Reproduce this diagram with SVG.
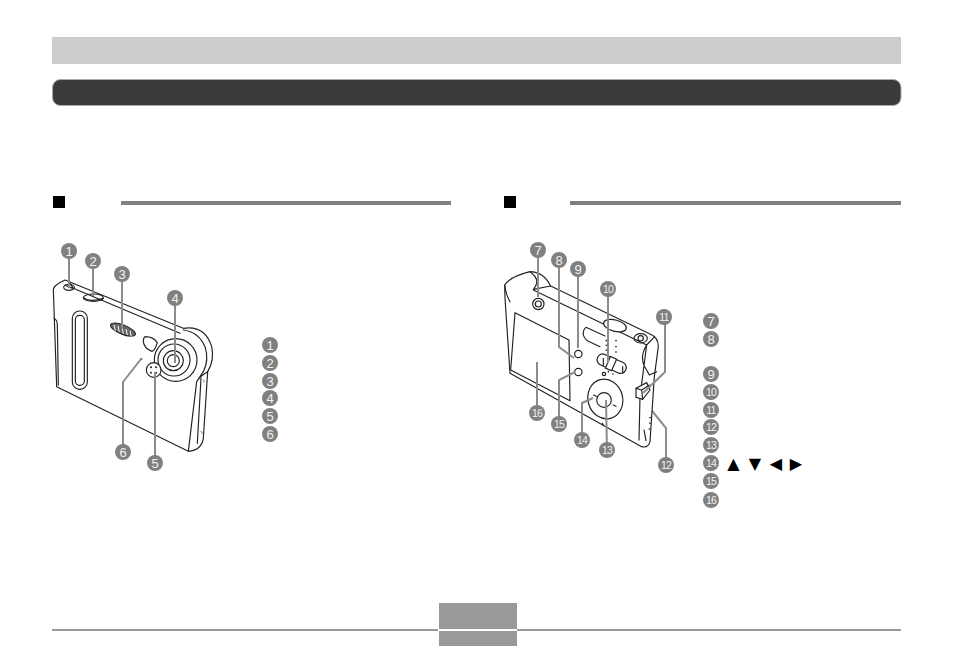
<svg xmlns="http://www.w3.org/2000/svg" width="954" height="646" viewBox="0 0 954 646">
<style>
.b{fill:#808080}
.n{fill:#f2f2f2;font-family:"Liberation Sans",Arial,sans-serif;font-size:13px;text-anchor:middle}
.w{font-size:10.500px;letter-spacing:-.8px}
.l{fill:none;stroke:#8c8c8c;stroke-width:2}
.c{fill:#fff;stroke:#222;stroke-width:3.500;stroke-linejoin:round}
.t{fill:none;stroke:#222;stroke-width:3.500;stroke-linejoin:round;stroke-linecap:round}
.h{fill:none;stroke:#555;stroke-width:2}
.g{fill:#000;font-family:"DejaVu Sans",sans-serif;font-size:16px;text-anchor:middle}
</style>
<rect width="954" height="646" fill="#fff"/>
<g id="header">
<rect x="52" y="37" width="849" height="27" fill="#cccccc"/>
<rect x="52.500" y="79.500" width="848.500" height="26" rx="8" fill="#3a3a3a" stroke="#aaa" stroke-width="1"/>
<rect x="53" y="196" width="12" height="12" fill="#000"/>
<rect x="121" y="201" width="330" height="4" fill="#808080"/>
<rect x="504" y="196" width="12" height="12" fill="#000"/>
<rect x="570" y="201" width="331" height="4" fill="#808080"/>
</g>
<g id="camera-front" transform="translate(40,230) scale(.33333)">
<path class="c" d="M40 178Q42 165 75 150L430 295Q495 285 515 350Q524 390 503 425L490 625Q485 660 445 664L50 470L40 178Z"/>
<path class="t" d="M42 265Q52 270 52 285L55 465M75 165Q85 172 100 175L420 310M100 175L90 160M430 300Q475 305 495 350Q508 390 490 425L470 455M503 425Q478 440 470 455L445 664M483 445L472 640"/>
<rect class="t" x="97" y="243" width="45" height="235" rx="22"/>
<rect class="t" x="106" y="256" width="27" height="210" rx="13"/>
<ellipse class="t" cx="87" cy="172" rx="16" ry="9"/>
<ellipse class="t" cx="160" cy="203" rx="30" ry="11"/>
<path class="t" d="M131 203Q150 218 190 205"/>
<ellipse cx="249" cy="299" rx="40" ry="14" transform="rotate(22 249 299)" fill="#666" stroke="#222" stroke-width="3"/>
<path d="M222 285L226 302M234 288L238 306M246 292L250 311M258 297L262 315M270 302L274 320" stroke="#fff" stroke-width="3"/>
<path class="c" d="M316 320Q340 320 352 338Q345 362 336 364Q312 355 310 335Q310 322 316 320Z"/>
<circle class="c" cx="407" cy="390" r="64"/>
<circle class="t" cx="402" cy="390" r="48"/>
<circle class="t" cx="400" cy="392" r="30"/>
<circle class="t" cx="400" cy="392" r="18"/>
<circle class="c" cx="341" cy="420" r="22"/>
<g fill="#222"><circle cx="333" cy="412" r="3"/><circle cx="348" cy="412" r="3"/><circle cx="333" cy="428" r="3"/><circle cx="348" cy="428" r="3"/></g>
<circle cx="304" cy="387" r="3" fill="#444"/>
<path class="h" d="M488 450l6 3-3 5M481 604l6 3-3 5"/>
</g>
<g id="camera-back" transform="translate(490,230) scale(.33333)">
<path class="c" d="M44 165Q60 140 120 125Q160 125 182 168L480 312Q505 322 505 350L493 440L480 635Q475 655 455 650L60 430L45 205Z"/>
<path class="t" d="M44 165Q48 195 60 215M120 125Q155 150 130 178L182 168M130 180L470 345L492 322M470 345L450 500L447 630M470 345Q445 385 470 420L478 435L500 425M462 600L468 632"/>
<path class="t" d="M75 248L237 330L240 512L62 420Z"/>
<circle class="t" cx="145" cy="222" r="17"/>
<circle class="t" cx="145" cy="222" r="9"/>
<path class="t" d="M288 292L345 318M288 292Q278 300 280 315Q282 325 292 332L330 350"/>
<ellipse class="c" cx="375" cy="287" rx="35" ry="17" transform="rotate(15 375 287)"/>
<ellipse class="t" cx="452" cy="325" rx="20" ry="14"/>
<circle class="t" cx="452" cy="325" r="8"/>
<rect class="t" x="319" y="384" width="92" height="34" rx="16" transform="rotate(24 365 401)"/>
<rect x="353" y="382" width="20" height="38" fill="#fff" stroke="#222" stroke-width="3.500" transform="rotate(24 363 401)"/>
<path class="t" d="M340 385v22M398 410v20"/>
<circle class="t" cx="265" cy="372" r="11"/>
<circle class="t" cx="265" cy="426" r="11"/>
<ellipse class="t" cx="346" cy="507" rx="52" ry="60" transform="rotate(-15 346 507)"/>
<circle class="t" cx="342" cy="510" r="22"/>
<path class="t" d="M311 495l8 4M370 525l8 4M337 580l3 5"/>
<circle class="t" cx="342" cy="432" r="5"/>
<g fill="#222"><circle cx="349" cy="332" r="2.500"/><circle cx="378" cy="332" r="2.500"/><circle cx="349" cy="346" r="2.500"/><circle cx="378" cy="350" r="2.500"/><circle cx="349" cy="360" r="2.500"/><circle cx="378" cy="366" r="2.500"/><circle cx="355" cy="425" r="2.500"/><circle cx="369" cy="432" r="2.500"/><circle cx="488" cy="545" r="2.500"/><circle cx="480" cy="563" r="2.500"/><circle cx="480" cy="580" r="2.500"/><circle cx="478" cy="597" r="2.500"/></g>
<path d="M438 475L470 458L480 480L458 508L438 502Z" fill="#fff" stroke="#222" stroke-width="3.500"/>
<path class="t" d="M455 480L458 508M438 475L455 480L478 465"/>
</g>
<g id="connectors">
<path class="l" d="M69 251V288M93 261V296M122 274V329M175 298V363M155 462V372M123 447V382L141 359"/>
<path class="l" d="M538 250V297M559 260V347L574 358M578 269V348M608 289V363M665 317V372L643 393M666 465V428L653 412M607 450L606 400M582 440V403L593 398M559 424V380L575 372M537 413V362"/>
</g>
<g id="n1"><circle class="b" cx="69" cy="251" r="8"/><text class="n" x="69" y="255.500">1</text></g>
<g id="n2"><circle class="b" cx="93" cy="261" r="8"/><text class="n" x="93" y="265.500">2</text></g>
<g id="n3"><circle class="b" cx="122" cy="274" r="8"/><text class="n" x="122" y="278.500">3</text></g>
<g id="n4"><circle class="b" cx="175" cy="298" r="8"/><text class="n" x="175" y="302.500">4</text></g>
<g id="n5"><circle class="b" cx="155" cy="463" r="8"/><text class="n" x="155" y="467.500">5</text></g>
<g id="n6"><circle class="b" cx="123" cy="452" r="8"/><text class="n" x="123" y="456.500">6</text></g>
<g id="n7"><circle class="b" cx="538" cy="250" r="8"/><text class="n" x="538" y="254.500">7</text></g>
<g id="n8"><circle class="b" cx="559" cy="260" r="8"/><text class="n" x="559" y="264.500">8</text></g>
<g id="n9"><circle class="b" cx="578" cy="269" r="8"/><text class="n" x="578" y="273.500">9</text></g>
<g id="n10"><circle class="b" cx="608" cy="289" r="8"/><text class="n w" x="608" y="292.800">10</text></g>
<g id="n11"><circle class="b" cx="664" cy="317" r="8"/><text class="n w" x="664" y="320.800">11</text></g>
<g id="n12"><circle class="b" cx="666" cy="465" r="8"/><text class="n w" x="666" y="468.800">12</text></g>
<g id="n13"><circle class="b" cx="607" cy="450" r="8"/><text class="n w" x="607" y="453.800">13</text></g>
<g id="n14"><circle class="b" cx="582" cy="440" r="8"/><text class="n w" x="582" y="443.800">14</text></g>
<g id="n15"><circle class="b" cx="559" cy="424" r="8"/><text class="n w" x="559" y="427.800">15</text></g>
<g id="n16"><circle class="b" cx="537" cy="413" r="8"/><text class="n w" x="537" y="416.800">16</text></g>
<g id="legend-front">
<circle class="b" cx="270" cy="345" r="8"/><text class="n" x="270" y="349.500">1</text>
<circle class="b" cx="270" cy="363" r="8"/><text class="n" x="270" y="367.500">2</text>
<circle class="b" cx="270" cy="381" r="8"/><text class="n" x="270" y="385.500">3</text>
<circle class="b" cx="270" cy="398" r="8"/><text class="n" x="270" y="402.500">4</text>
<circle class="b" cx="270" cy="416" r="8"/><text class="n" x="270" y="420.500">5</text>
<circle class="b" cx="270" cy="434" r="8"/><text class="n" x="270" y="438.500">6</text>
</g>
<g id="legend-back">
<circle class="b" cx="711" cy="321" r="8"/><text class="n" x="711" y="325.500">7</text>
<circle class="b" cx="711" cy="339" r="8"/><text class="n" x="711" y="343.500">8</text>
<circle class="b" cx="711" cy="374" r="8"/><text class="n" x="711" y="378.500">9</text>
<circle class="b" cx="711" cy="392" r="8"/><text class="n w" x="711" y="395.800">10</text>
<circle class="b" cx="711" cy="410" r="8"/><text class="n w" x="711" y="413.800">11</text>
<circle class="b" cx="711" cy="427" r="8"/><text class="n w" x="711" y="430.800">12</text>
<circle class="b" cx="711" cy="445" r="8"/><text class="n w" x="711" y="448.800">13</text>
<circle class="b" cx="711" cy="463" r="8"/><text class="n w" x="711" y="466.800">14</text>
<circle class="b" cx="711" cy="481" r="8"/><text class="n w" x="711" y="484.800">15</text>
<circle class="b" cx="711" cy="500" r="8"/><text class="n w" x="711" y="503.800">16</text>
<text class="g" x="733.500" y="469">▲</text>
<text class="g" x="755" y="469">▼</text>
<text class="g" x="776" y="469">◀</text>
<text class="g" x="796" y="469">▶</text>
</g>
<g id="footer">
<rect x="52" y="629" width="386" height="2" fill="#999"/>
<rect x="517" y="629" width="384" height="2" fill="#999"/>
<rect x="439" y="603" width="78" height="26" fill="#999"/>
<rect x="439" y="631" width="78" height="15" fill="#999"/>
</g>
</svg>
